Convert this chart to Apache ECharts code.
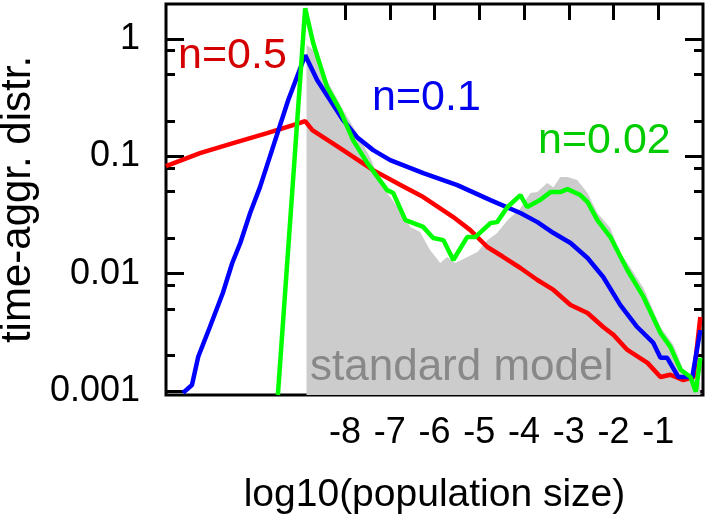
<!DOCTYPE html>
<html lang="en">
<head>
    <meta charset="UTF-8"/>
    <title>time-aggr. distr.</title>
    <script src="https://cdn.jsdelivr.net/npm/echarts@6/dist/echarts.min.js"></script>
    <style>
        html, body { margin: 0; padding: 0; background: #fff; }
        #main { width: 706px; height: 518px; }
    </style>
</head>
<body>
<div id="main"></div>
<script type="text/javascript">
    // tick positions
    var xTicks = [-8, -7, -6, -5, -4, -3, -2, -1];
    var yMajor = [0.001, 0.01, 0.1, 1];
    var yMinor = [0.002, 0.005, 0.008, 0.02, 0.05, 0.08, 0.2, 0.5, 0.8];

    // standard model (grey area)
    var stdX = [-8.86, -8.62, -8.40, -8.04, -7.73, -7.44, -7.15, -6.99, -6.77, -6.54, -6.32, -6.10, -5.87, -5.72, -5.54, -5.31, -5.04, -4.82, -4.60, -4.37, -4.08, -3.86, -3.70, -3.48, -3.34, -3.19, -3.03, -2.81, -2.58, -2.36, -2.07, -1.85, -1.69, -1.33, -0.95, -0.66, -0.44, -0.21, -0.06];
    var stdY = [0.9, 0.76, 0.447, 0.248, 0.158, 0.0986, 0.0547, 0.045, 0.0348, 0.025, 0.0226, 0.0159, 0.0123, 0.01385, 0.0123, 0.01358, 0.01528, 0.0193, 0.0222, 0.0286, 0.0362, 0.0487, 0.0496, 0.0592, 0.0547, 0.0666, 0.0666, 0.0628, 0.0487, 0.0329, 0.0245, 0.015, 0.0123, 0.00754, 0.0035, 0.00246, 0.00151, 0.00131, 0.00117];

    // n=0.5
    var redX = [-12.00, -11.24, -10.50, -9.74, -9.16, -8.89, -8.73, -8.11, -7.37, -6.77, -6.25, -5.58, -5.20, -4.82, -4.46, -4.08, -3.70, -3.34, -2.96, -2.58, -2.23, -2.00, -1.69, -1.24, -0.95, -0.73, -0.44, -0.21, -0.06];
    var redY = [0.0827, 0.1067, 0.1299, 0.158, 0.1848, 0.2, 0.1676, 0.1177, 0.0764, 0.0574, 0.045, 0.0304, 0.0235, 0.01686, 0.01385, 0.01116, 0.00882, 0.00725, 0.0054, 0.00461, 0.0035, 0.003, 0.00223, 0.00173, 0.00131, 0.00137, 0.00123, 0.00131, 0.00427];

    // n=0.1
    var blueX = [-11.62, -11.42, -11.28, -11.02, -10.73, -10.52, -10.34, -10.12, -9.90, -9.61, -9.27, -8.89, -8.62, -8.33, -8.04, -7.73, -7.37, -6.99, -6.25, -5.49, -4.75, -4.08, -3.70, -3.34, -2.96, -2.58, -2.23, -1.85, -1.47, -1.11, -0.95, -0.80, -0.55, -0.24, -0.06];
    var blueY = [0.00096, 0.00112, 0.00195, 0.0035, 0.00683, 0.01231, 0.01824, 0.0329, 0.0547, 0.12, 0.302, 0.731, 0.447, 0.302, 0.204, 0.146, 0.1132, 0.093, 0.0721, 0.0569, 0.0424, 0.0329, 0.0275, 0.0222, 0.01824, 0.01358, 0.00935, 0.0054, 0.0035, 0.00256, 0.00191, 0.00191, 0.00131, 0.00131, 0.0033];

    // n=0.02
    var greenX = [-9.50, -8.89, -8.71, -8.40, -8.11, -7.82, -7.50, -7.06, -6.92, -6.65, -6.25, -6.03, -5.80, -5.58, -5.27, -5.09, -4.75, -4.60, -4.37, -4.08, -3.93, -3.64, -3.41, -3.19, -3.03, -2.74, -2.58, -2.36, -2.07, -1.69, -1.33, -0.95, -0.73, -0.50, -0.28, -0.16, -0.06];
    var greenY = [0.00092, 1.838, 0.924, 0.39, 0.248, 0.1377, 0.0877, 0.0516, 0.0487, 0.0286, 0.025, 0.0201, 0.0193, 0.01306, 0.0205, 0.0205, 0.027, 0.0275, 0.037, 0.0468, 0.037, 0.0424, 0.0496, 0.0496, 0.0526, 0.0468, 0.0408, 0.0286, 0.0205, 0.01073, 0.00632, 0.00311, 0.00237, 0.00151, 0.00131, 0.00098, 0.00191];

    function pairs(xs, ys) {
        return xs.map(function (x, i) { return [x, ys[i]]; });
    }

    var font = 'Liberation Sans, Arial, Helvetica, sans-serif';
    var yMin = 0.00092, yMax = 2;

    var chart = echarts.init(document.getElementById('main'));
    chart.setOption({
        animation: false,
        grid: [
            // main plot, framed
            {left: 166, right: 3, top: 4, bottom: 123, containLabel: false, outerBoundsMode: 'none',
                show: true, borderColor: '#000', borderWidth: 3, backgroundColor: 'transparent'},
            // thin strip just under the top edge, only carries the top ticks
            {left: 166, right: 3, top: 20, height: 10, containLabel: false, outerBoundsMode: 'none', show: false}
        ],
        xAxis: [{
            gridIndex: 0, type: 'value', position: 'bottom', min: -12, max: 0,
            name: 'log10(population size)', nameLocation: 'middle', nameGap: 81,
            nameTextStyle: {fontSize: 39, color: '#000', fontFamily: font},
            axisLine: {show: false, onZero: false},
            axisTick: {show: false},
            axisLabel: {customValues: xTicks, fontSize: 36, color: '#000', margin: 20, fontFamily: font},
            splitLine: {show: false}
        }, {
            gridIndex: 1, type: 'value', position: 'top', min: -12, max: 0,
            axisLine: {show: false, onZero: false},
            axisTick: {show: true, inside: false, length: 16, customValues: xTicks, lineStyle: {color: '#000', width: 3}},
            axisLabel: {show: false},
            splitLine: {show: false}
        }],
        yAxis: [{
            gridIndex: 0, type: 'log', logBase: 10, position: 'left', min: yMin, max: yMax,
            name: 'time-aggr. distr.', nameLocation: 'middle', nameGap: 122, nameRotate: 90,
            nameTextStyle: {fontSize: 42, color: '#000', fontFamily: font},
            axisLine: {show: false, onZero: false},
            axisTick: {show: true, inside: true, length: 18, customValues: yMajor, lineStyle: {color: '#000', width: 3}},
            axisLabel: {customValues: yMajor, fontSize: 36, color: '#000', margin: 26, fontFamily: font,
                formatter: function (v) { return String(v); }},
            splitLine: {show: false}
        }, {
            gridIndex: 0, type: 'log', logBase: 10, position: 'left', min: yMin, max: yMax,
            axisLine: {show: false, onZero: false},
            axisTick: {show: true, inside: true, length: 9, customValues: yMinor, lineStyle: {color: '#000', width: 3}},
            axisLabel: {show: false},
            splitLine: {show: false}
        }, {
            gridIndex: 0, type: 'log', logBase: 10, position: 'right', min: yMin, max: yMax,
            axisLine: {show: false, onZero: false},
            axisTick: {show: true, inside: true, length: 18, customValues: yMajor, lineStyle: {color: '#000', width: 3}},
            axisLabel: {show: false},
            splitLine: {show: false}
        }, {
            gridIndex: 0, type: 'log', logBase: 10, position: 'right', min: yMin, max: yMax,
            axisLine: {show: false, onZero: false},
            axisTick: {show: true, inside: true, length: 9, customValues: yMinor, lineStyle: {color: '#000', width: 3}},
            axisLabel: {show: false},
            splitLine: {show: false}
        }, {
            gridIndex: 1, type: 'value', show: false, min: 0, max: 1
        }],
        series: [{
            name: 'standard model', type: 'line', z: 1,
            data: pairs(stdX, stdY),
            symbol: 'none',
            lineStyle: {width: 0, color: '#cccccc'},
            areaStyle: {color: '#cccccc', opacity: 1, origin: 'start'}
        }, {
            name: 'n=0.5', type: 'line', z: 2,
            data: pairs(redX, redY),
            symbol: 'none',
            lineStyle: {width: 4.5, color: '#ff0000'}
        }, {
            name: 'n=0.1', type: 'line', z: 3,
            data: pairs(blueX, blueY),
            symbol: 'none',
            lineStyle: {width: 4.5, color: '#0000ff'}
        }, {
            name: 'n=0.02', type: 'line', z: 4,
            data: pairs(greenX, greenY),
            symbol: 'none',
            lineStyle: {width: 4.5, color: '#00ff00'}
        }],
        graphic: [
            {type: 'text', left: 178, top: 35, z: 100, style: {text: 'n=0.5', fill: '#d40000', font: '43px ' + font}},
            {type: 'text', left: 372, top: 77, z: 100, style: {text: 'n=0.1', fill: '#0000ee', font: '43px ' + font}},
            {type: 'text', left: 538, top: 120, z: 100, style: {text: 'n=0.02', fill: '#00cc00', font: '43px ' + font}},
            {type: 'text', left: 310, top: 346, z: 100, style: {text: 'standard model', fill: '#888888', font: '44px ' + font}}
        ]
    });
</script>
</body>
</html>
